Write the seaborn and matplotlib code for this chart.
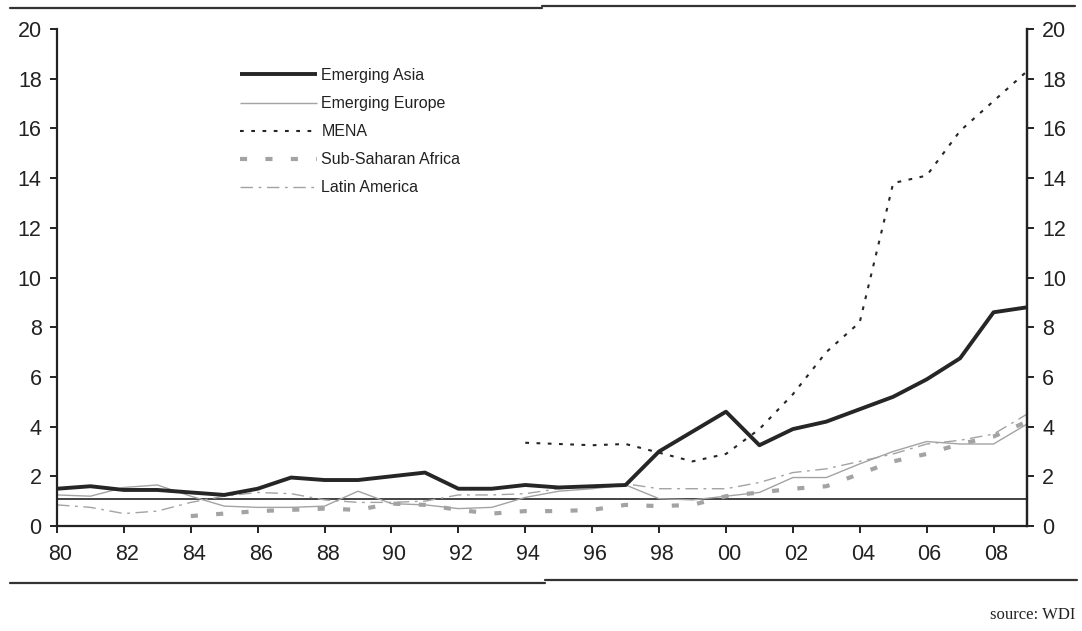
import numpy as np
import pandas as pd
import matplotlib
matplotlib.use("Agg")
import matplotlib.pyplot as plt
from matplotlib.lines import Line2D
from matplotlib.transforms import ScaledTranslation
import seaborn as sns

# Annual series, 1980-2009
years = list(range(1980, 2010))
tick_years = list(range(1980, 2009, 2))
tick_labels = [f"{y % 100:02d}" for y in tick_years]
y_ticks = list(range(0, 21, 2))

emerging_asia = [1.5, 1.6, 1.45, 1.45, 1.35, 1.25, 1.5, 1.95, 1.85, 1.85,
                 2.0, 2.15, 1.5, 1.5, 1.65, 1.55, 1.6, 1.65, 3.0, 3.8,
                 4.6, 3.25, 3.9, 4.2, 4.7, 5.2, 5.9, 6.75, 8.6, 8.8]
emerging_europe = [1.25, 1.2, 1.55, 1.65, 1.2, 0.8, 0.75, 0.75, 0.8, 1.4,
                   0.9, 0.85, 0.7, 0.75, 1.15, 1.4, 1.5, 1.65, 1.1, 1.05,
                   1.2, 1.35, 1.95, 1.95, 2.5, 3.0, 3.4, 3.3, 3.3, 4.1]
mena = [np.nan] * 14 + [3.35, 3.3, 3.25, 3.3, 2.95, 2.6,
                        2.9, 3.9, 5.3, 7.0, 8.2, 13.8, 14.1, 15.9, 17.1, 18.3]
sub_saharan_africa = [np.nan] * 4 + [0.4, 0.5, 0.6, 0.65, 0.7, 0.65,
                                     0.9, 0.85, 0.65, 0.5, 0.6, 0.6, 0.65, 0.85, 0.8, 0.85,
                                     1.2, 1.35, 1.5, 1.6, 2.1, 2.6, 2.9, 3.3, 3.6, 4.2]
latin_america = [0.85, 0.75, 0.5, 0.6, 0.95, 1.2, 1.35, 1.3, 1.05, 0.95,
                 0.95, 1.0, 1.25, 1.25, 1.3, 1.5, 1.6, 1.7, 1.5, 1.5,
                 1.5, 1.75, 2.15, 2.3, 2.6, 2.9, 3.3, 3.45, 3.7, 4.5]
reference_level = 1.1

sns.set_theme(style="white")
plt.rcParams["font.family"] = ["Liberation Sans", "DejaVu Sans"]

fig = plt.figure(figsize=(10.82, 6.31), dpi=100)
ax = fig.add_axes([57 / 1082, 1 - 526 / 631, (1027 - 57) / 1082, (526 - 29) / 631])

grey = "#a3a3a3"
dark = "#262626"

series = [
    ("Emerging Asia", emerging_asia, dict(color=dark, lw=2.8, ls="-")),
    ("Emerging Europe", emerging_europe, dict(color=grey, lw=1.0, ls="-")),
    ("MENA", mena, dict(color=dark, lw=1.5, ls=(0, (1.8, 3.6)))),
    ("Sub-Saharan Africa", sub_saharan_africa, dict(color=grey, lw=3.0, ls=(0, (1.7, 4.4)))),
    ("Latin America", latin_america, dict(color=grey, lw=1.0, ls=(0, (9, 4, 2, 4)))),
]

# Grey series underneath, dark series on top
draw_order = [1, 3, 4, 0, 2]
handles = {}
for i in draw_order:
    name, vals, style = series[i]
    df = pd.DataFrame({"year": years, "value": vals}).dropna()
    sns.lineplot(data=df, x="year", y="value", ax=ax, estimator=None,
                 sort=True, legend=False, zorder=3 if i in (0, 2) else 2,
                 solid_capstyle="butt", dash_capstyle="butt", **style)
    handles[name] = Line2D([], [], solid_capstyle="butt", dash_capstyle="butt", **style)

ax.axhline(reference_level, color="#111111", lw=1.1, zorder=1)

ax.set_xlim(1980, 2009)
ax.set_ylim(0, 20)
ax.set_xticks(tick_years)
ax.set_xticklabels(tick_labels)
ax.set_yticks(y_ticks)
ax.set_xlabel("")
ax.set_ylabel("")

for side in ["left", "right", "bottom"]:
    ax.spines[side].set_visible(True)
    ax.spines[side].set_color("#222222")
    ax.spines[side].set_linewidth(1.6)
ax.spines["top"].set_visible(False)

ax.tick_params(axis="both", which="major", direction="out", length=5,
               width=1.4, color="#222222", labelsize=15.5, labelcolor="#222222")
ax.tick_params(axis="x", pad=8, bottom=True)
ax.tick_params(axis="y", pad=6, left=True)

# Year labels sit a touch right of their tick marks
shift = ScaledTranslation(3 / 100, 0, fig.dpi_scale_trans)
for lbl in ax.get_xticklabels():
    lbl.set_transform(lbl.get_transform() + shift)

ax2 = ax.twinx()
ax2.set_ylim(0, 20)
ax2.set_yticks(y_ticks)
for side in ["left", "top", "bottom"]:
    ax2.spines[side].set_visible(False)
ax2.spines["right"].set_color("#222222")
ax2.spines["right"].set_linewidth(1.6)
ax2.tick_params(axis="y", direction="out", length=5, width=1.4, color="#222222",
                labelsize=15.5, labelcolor="#222222", pad=6, right=True)
ax2.grid(False)
ax.grid(False)

names = [s[0] for s in series]
leg = ax.legend([handles[n] for n in names], names, loc="upper left",
                bbox_to_anchor=(240 / 1082, 1 - 68 / 631),
                bbox_transform=fig.transFigure, frameon=False,
                fontsize=11.5, handlelength=4.8, handletextpad=0.3,
                labelspacing=0.82, borderpad=0, borderaxespad=0)
for t in leg.get_texts():
    t.set_color("#222222")

# Frame rules above and below the chart
rule_kw = dict(color="#333333", lw=1.6, transform=fig.transFigure)
fig.add_artist(Line2D([10 / 1082, 542 / 1082], [1 - 8 / 631, 1 - 8 / 631], **rule_kw))
fig.add_artist(Line2D([542 / 1082, 1075 / 1082], [1 - 6 / 631, 1 - 6 / 631], **rule_kw))
fig.add_artist(Line2D([10 / 1082, 545 / 1082], [1 - 583 / 631, 1 - 583 / 631], **rule_kw))
fig.add_artist(Line2D([545 / 1082, 1077 / 1082], [1 - 580 / 631, 1 - 580 / 631], **rule_kw))

fig.text(1075 / 1082, 1 - 619 / 631, "source: WDI", ha="right", va="baseline",
         fontsize=12, family=["Liberation Serif", "DejaVu Serif"], color="#222222")

fig.savefig("out.png", dpi=100, facecolor="white")
